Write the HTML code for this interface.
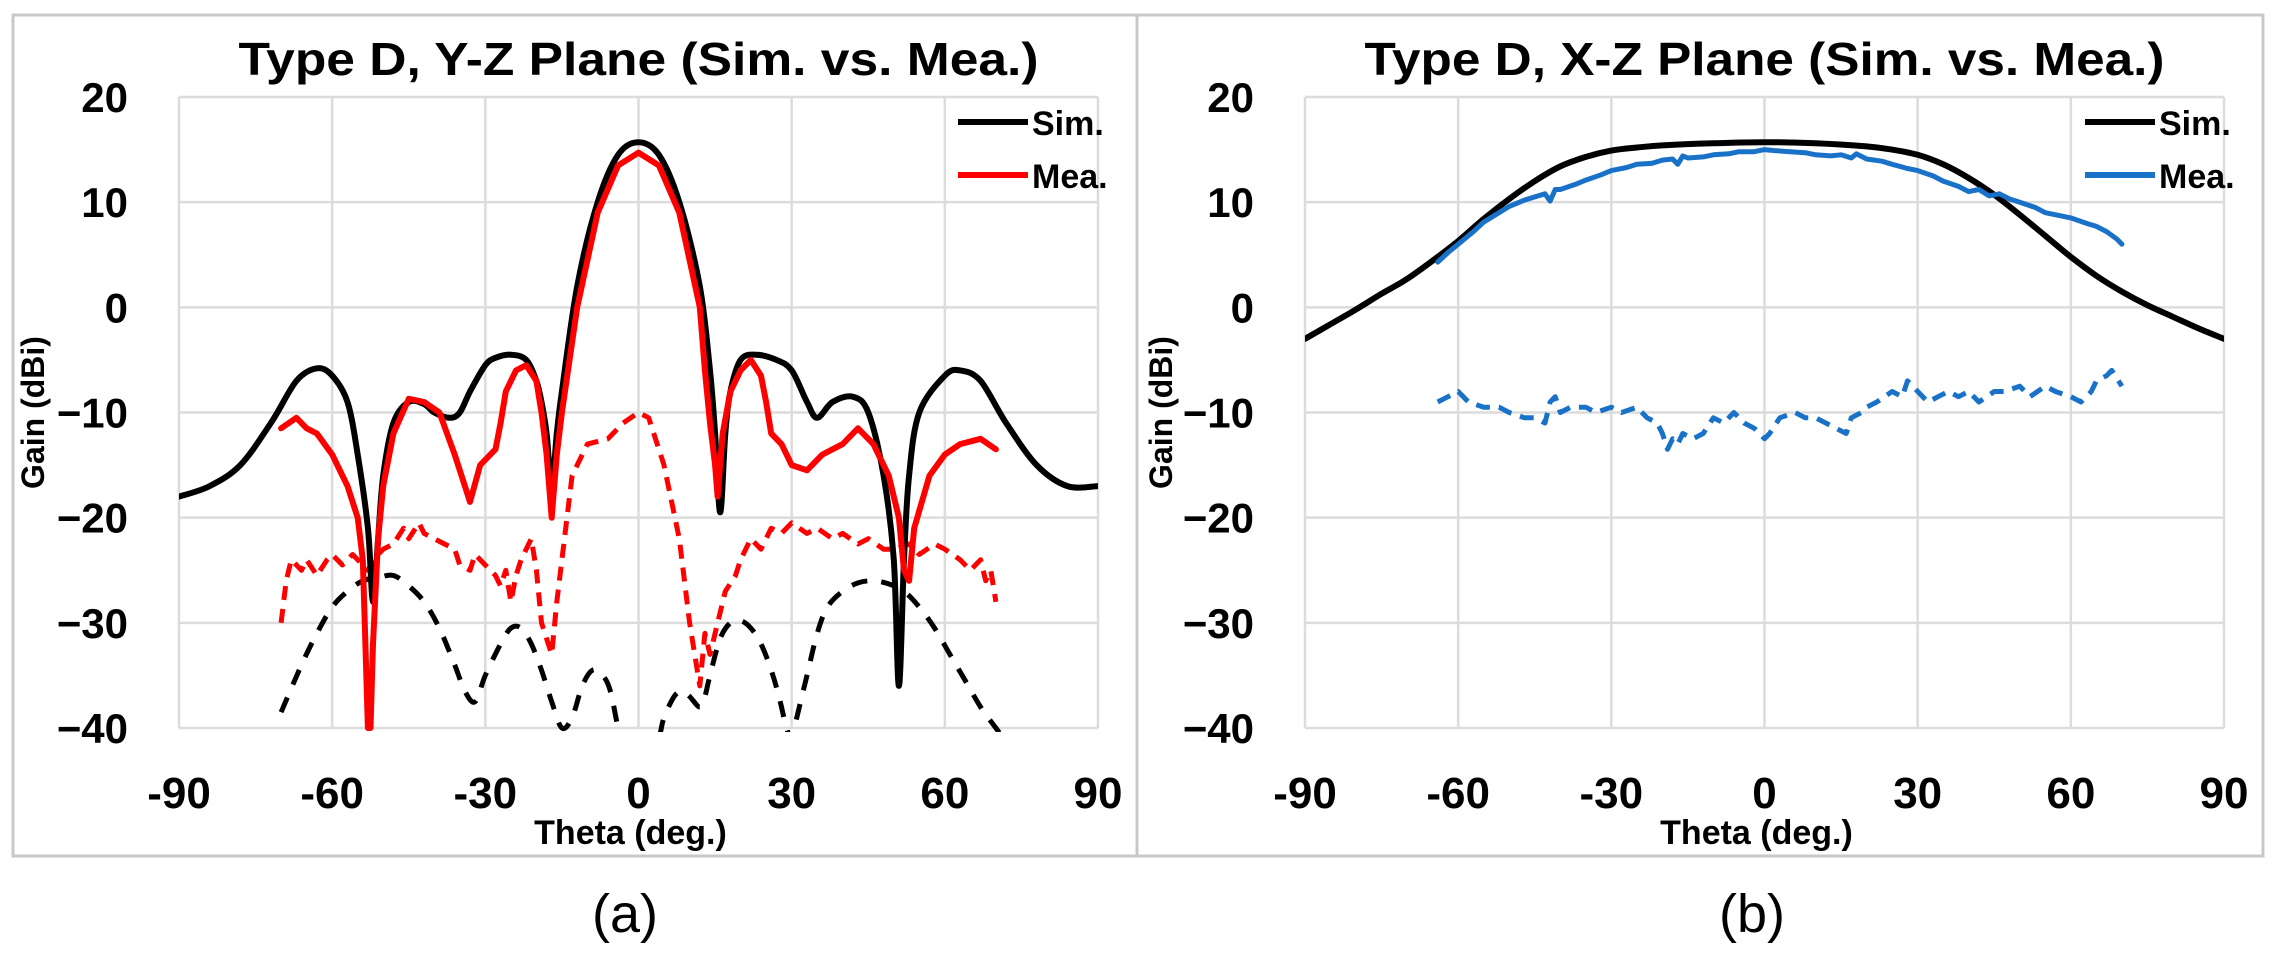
<!DOCTYPE html>
<html><head><meta charset="utf-8"><style>
html,body{margin:0;padding:0;background:#fff;width:2278px;height:963px;overflow:hidden}
svg text{font-family:"Liberation Sans",sans-serif}
</style></head><body>
<svg id="fig" width="2278" height="963" viewBox="0 0 2278 963" xmlns="http://www.w3.org/2000/svg">
<rect x="13" y="15" width="2250" height="841" fill="none" stroke="#c8c8c8" stroke-width="3"/>
<line x1="1137" y1="15" x2="1137" y2="856" stroke="#c8c8c8" stroke-width="3"/>
<g id="chartA"></g>
<g id="chartB"></g>
<text x="625" y="932" font-size="54" text-anchor="middle">(a)</text>
<text x="1752" y="932" font-size="54" text-anchor="middle">(b)</text>
</svg>
<script>
const xTicks=[-90,-60,-30,0,30,60,90];
const yTicks=[20,10,0,-10,-20,-30,-40];
const yTickLabels=["20","10","0","\u221210","\u221220","\u221230","\u221240"];
const xTickLabels=["-90","-60","-30","0","30","60","90"];

const aSimX=[-90,-84,-78,-72,-67,-63,-60,-57,-55,-53,-52,-51,-50,-48,-45,-42,-40,-37,-35,-33,-30,-28,-25,-22,-20,-19,-18,-17,-16,-15,-12,-8,-4,0,4,8,12,14,15,16,17,18,20,23,27,30,33,35,38,42,45,48,50,51,52,53,55,60,63,67,72,78,84,90];
const aSimY=[-18,-17,-15,-11,-7,-5.8,-6.5,-9,-14,-21,-28,-22,-16,-11,-9,-9.2,-10,-10.5,-10,-8,-5.5,-4.8,-4.5,-5,-7,-9,-12,-17,-12,-8,2,10,14.5,15.7,14.5,10,2,-6,-12,-19.5,-12,-8,-5,-4.5,-5,-6,-9,-10.5,-9,-8.5,-10,-16,-24,-36,-24,-16,-10,-6.5,-6,-7,-11,-15,-17,-17];
const aMeaX=[-70,-67,-65,-63,-60,-57,-55,-54,-53.5,-53,-52.5,-52,-51,-50,-48,-45,-42,-39,-36,-34,-33,-31,-28,-27,-26,-24,-22,-20,-19,-18,-17,-16,-15,-12,-8,-4,0,4,8,12,13,14,15,15.5,16.5,18,20,22,24,25,26,28,30,33,36,38,40,43,46,49,51,52,53,54,57,60,63,67,70];
const aMeaY=[-11.5,-10.5,-11.5,-12,-14,-17,-20,-24,-32,-40,-40,-32,-22,-17,-12,-8.7,-9,-10,-14,-17,-18.5,-15,-13.5,-11,-8,-6,-5.5,-7,-10,-14,-20,-14,-10,0,9,13.5,14.7,13.5,9,0,-6,-11,-15,-18,-12,-8,-6,-5,-6.5,-9,-12,-13,-15,-15.5,-14,-13.5,-13,-11.5,-13,-16,-20,-25,-26,-21,-16,-14,-13,-12.5,-13.5];
const aMeaXpX=[-70,-69,-68,-66,-65,-63,-61,-60,-58,-56,-55,-53,-52,-50,-48,-46,-45,-43,-42,-40,-38,-36,-35,-33,-32,-30,-28,-27,-26,-25,-24,-23,-22,-21,-20,-19,-17,-16,-15,-13,-10,-6,-3,0,2,5,8,10,11,12,13,14,15,17,19,20,22,24,26,28,30,33,35,38,40,43,45,48,50,53,55,58,60,63,65,67,68,69,70];
const aMeaXpY=[-30,-26,-24,-25,-24,-25.5,-24,-23.5,-24.5,-23.5,-24,-25,-24,-23,-22.5,-21,-22,-20.5,-21.5,-22,-22.5,-23,-24.5,-25,-23.5,-24.5,-25.5,-26.5,-25,-28,-25.5,-24,-23,-22,-25,-30,-33,-28,-24,-16,-13,-12.5,-11,-10,-10.5,-15,-22,-30,-33,-36,-31,-33,-31,-27,-25.5,-24,-22,-23,-21,-21.5,-20.5,-21.5,-21,-22,-21.5,-22.5,-22,-23,-23,-22.5,-23.5,-22.5,-23,-24,-25,-24,-26,-25,-28];
const aSimXpX=[-70,-66,-63,-60,-57,-54,-51,-48,-45,-42,-39,-36,-34,-32,-30,-27,-25,-23,-21,-19,-17,-15,-13,-11,-9,-7,-5.5,-4,-2,0,2,4,5,7,8.5,10,12,13,14,16,18,20,22,24,26,27.5,29,30,31,33,35,37,40,43,46,49,52,55,58,61,64,67,70,73];
const aSimXpY=[-38.5,-34,-31,-28.5,-27,-26,-25.7,-25.5,-26.5,-28,-30.5,-34,-36.5,-37.5,-35,-32,-30.5,-30.5,-32,-34.5,-37.5,-40,-39,-36,-34.5,-35,-36.5,-40,-44,-46,-44,-41,-39,-37,-36.5,-37,-38,-37,-35,-31.5,-30,-29.8,-30.5,-32,-34.5,-37,-40,-41,-39,-35,-31,-28.5,-27,-26.2,-26,-26.3,-27,-28.5,-30.5,-33,-35.5,-38,-40,-42];

const bSimX=[-90,-85,-80,-75,-70,-64,-60,-55,-50,-45,-40,-35,-30,-25,-20,-10,0,10,20,25,30,35,40,45,50,55,60,65,70,75,80,85,90];
const bSimY=[-3,-1.6,-0.2,1.3,2.7,4.8,6.3,8.4,10.3,12,13.4,14.3,14.9,15.2,15.4,15.6,15.7,15.6,15.3,15,14.5,13.6,12.3,10.7,8.8,6.8,4.8,3,1.5,0.2,-0.9,-2,-3];
const bMeaX=[-64,-62,-60,-57,-55,-52,-50,-47,-45,-43,-42,-41,-40,-37,-35,-32,-30,-27,-25,-22,-20,-18,-17,-16,-15,-12,-10,-7,-5,-2,0,2,5,8,10,13,15,17,18,20,23,25,28,30,33,35,38,40,42,44,46,48,50,53,55,58,60,63,65,67,69,70];
const bMeaY=[4.3,5.2,6,7.2,8.1,9,9.6,10.2,10.5,10.8,10.1,11.2,11.2,11.7,12.1,12.6,13,13.3,13.6,13.7,14,14.1,13.6,14.4,14.2,14.3,14.5,14.6,14.8,14.8,15,14.9,14.8,14.7,14.5,14.4,14.5,14.2,14.6,14.1,13.9,13.6,13.2,13,12.5,12,11.5,11,11.2,10.6,10.8,10.3,10,9.5,9,8.7,8.5,8,7.7,7.2,6.5,6];
const bMeaXpX=[-64,-62,-60,-58,-55,-52,-50,-47,-45,-43,-42,-41,-40,-38,-35,-33,-30,-28,-25,-23,-21,-20,-19,-18,-17,-16,-14,-12,-10,-8,-6,-4,-2,0,1,3,6,8,10,12,14,16,17,19,20,22,25,27,28,30,32,34,36,38,40,42,45,47,50,52,55,57,60,62,64,65,67,68,70];
const bMeaXpY=[-9,-8.5,-8,-9,-9.5,-9.5,-10,-10.5,-10.5,-11,-9,-8.5,-10,-9.5,-9.5,-10,-9.5,-10,-9.5,-10.5,-11,-12,-13.5,-12.5,-13,-12,-12.5,-12,-10.5,-11,-10,-11,-11.5,-12.5,-12,-10.5,-10,-10.5,-10.5,-11,-11.5,-12,-10.5,-10,-9.5,-9,-8,-8.5,-7,-8,-9,-8.5,-8,-8.5,-8,-9,-8,-8,-7.5,-8.5,-7.5,-8,-8.5,-9,-8,-7,-6.5,-6,-7.5];

const NS='http://www.w3.org/2000/svg';
function mk(parent,tag,attrs){const e=document.createElementNS(NS,tag);for(const k in attrs)e.setAttribute(k,attrs[k]);parent.appendChild(e);return e;}
function smoothPath(P){
  let d='M'+P[0][0].toFixed(1)+','+P[0][1].toFixed(1);
  for(let i=0;i<P.length-1;i++){
    const p0=P[i-1]||P[i],p1=P[i],p2=P[i+1],p3=P[i+2]||P[i+1];
    const c1=[p1[0]+(p2[0]-p0[0])/6,p1[1]+(p2[1]-p0[1])/6];
    const c2=[p2[0]-(p3[0]-p1[0])/6,p2[1]-(p3[1]-p1[1])/6];
    d+=` C${c1[0].toFixed(1)},${c1[1].toFixed(1)} ${c2[0].toFixed(1)},${c2[1].toFixed(1)} ${p2[0].toFixed(1)},${p2[1].toFixed(1)}`;
  }
  return d;
}

function drawChart(gid,L,R,T,B,title,yLabelX,series,legend){
  const g=document.getElementById(gid);
  const xs=v=>L+(v+90)/180*(R-L);
  const ys=v=>T+(20-v)/60*(B-T);
  const clipId=gid+'-clip';
  const defs=mk(g,'defs',{});
  const cp=mk(defs,'clipPath',{id:clipId});
  mk(cp,'rect',{x:L,y:T-4,width:R-L,height:B-T+8});
  xTicks.forEach((t,i)=>{
    const gl=mk(g,'line',{x1:xs(t),x2:xs(t),y1:T,y2:B,stroke:'#dcdcdc','stroke-width':2.5});
    
    
    const tl=mk(g,'text',{x:xs(t),y:B+80,'font-size':44,'font-weight':'bold','text-anchor':'middle'});
    tl.textContent=xTickLabels[i];
    
    
  });
  yTicks.forEach((t,i)=>{
    const gl=mk(g,'line',{x1:L,x2:R,y1:ys(t),y2:ys(t),stroke:'#dcdcdc','stroke-width':2.5});
    
    
    const tl=mk(g,'text',{x:L-51,y:ys(t)+15,'font-size':42,'font-weight':'bold','text-anchor':'end'});
    tl.textContent=yTickLabels[i];
    
    
  });
  const tt=mk(g,'text',{x:(L+R)/2,y:75,'font-size':46,'font-weight':'bold','text-anchor':'middle',textLength:800,lengthAdjust:'spacingAndGlyphs'});
  tt.textContent=title;
  
  
  const yl=mk(g,'text',{x:0,y:0,'font-size':32,'font-weight':'bold','text-anchor':'middle',transform:`translate(${yLabelX},${ys(-10)}) rotate(-90)`});
  yl.textContent='Gain (dBi)';
  
  
  const xl=mk(g,'text',{x:(L+R)/2-8,y:B+116,'font-size':34,'font-weight':'bold','text-anchor':'middle'});
  xl.textContent='Theta (deg.)';
  
  
  const sg=mk(g,'g',{'clip-path':`url(#${clipId})`});
  series.forEach(s=>{
    const P=s.x.map((v,i)=>[xs(v),ys(s.y[i])]);
    const d=s.smooth?smoothPath(P):P.map((p,i)=>(i?'L':'M')+p[0].toFixed(1)+','+p[1].toFixed(1)).join(' ');
    const p=mk(sg,'path',{d:d,fill:'none',stroke:s.color,'stroke-width':s.w,'stroke-linejoin':'round','stroke-linecap':'round'});
    if(s.dash){p.setAttribute('stroke-dasharray',s.dash);p.setAttribute('stroke-linecap','butt');}
    
    
  });
  legend.forEach((l,i)=>{
    const y=122+i*53;
    const ln=mk(g,'line',{x1:l.x1,x2:l.x1+70,y1:y,y2:y,stroke:l.color,'stroke-width':6});
    
    
    const lt=mk(g,'text',{x:l.x1+74,y:y+13,'font-size':34,'font-weight':'bold'});
    lt.textContent=l.label;
    
    
  });
}

drawChart('chartA',179,1098,97,728,'Type D, Y-Z Plane (Sim. vs. Mea.)',44,[
  {x:aSimXpX,y:aSimXpY,color:'#000',w:5,dash:'16 14',smooth:true,name:'sim-crosspol-line'},
  {x:aMeaXpX,y:aMeaXpY,color:'#ff0000',w:5,dash:'14 9',name:'mea-crosspol-line'},
  {x:aSimX,y:aSimY,color:'#000',w:6,smooth:true,name:'sim-copol-line'},
  {x:aMeaX,y:aMeaY,color:'#ff0000',w:6,name:'mea-copol-line'}
],[{x1:958,color:'#000',label:'Sim.'},{x1:958,color:'#ff0000',label:'Mea.'}]);

drawChart('chartB',1305,2224,97,728,'Type D, X-Z Plane (Sim. vs. Mea.)',1172,[
  {x:bMeaXpX,y:bMeaXpY,color:'#1a72c8',w:5,dash:'14 9',name:'mea-crosspol-line'},
  {x:bSimX,y:bSimY,color:'#000',w:6,smooth:true,name:'sim-copol-line'},
  {x:bMeaX,y:bMeaY,color:'#1a72c8',w:5,name:'mea-copol-line'}
],[{x1:2085,color:'#000',label:'Sim.'},{x1:2085,color:'#1a72c8',label:'Mea.'}]);
</script>
</body></html>
